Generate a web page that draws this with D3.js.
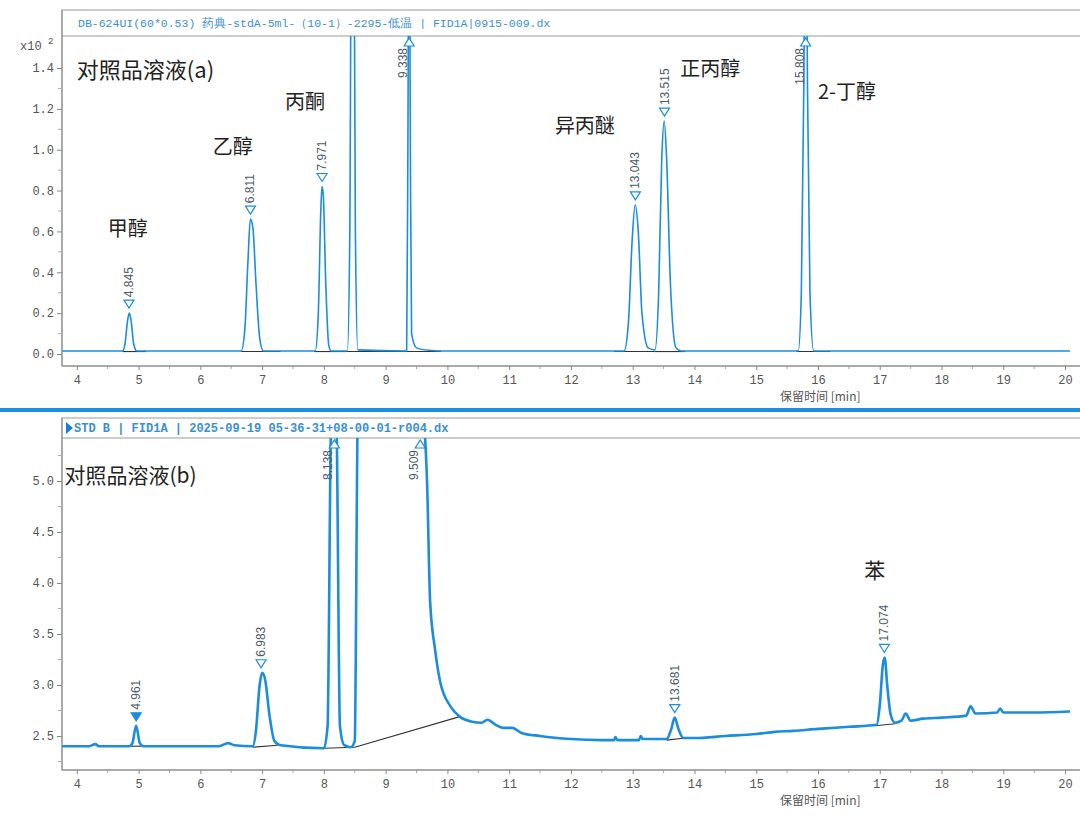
<!DOCTYPE html>
<html><head><meta charset="utf-8">
<script src="https://cdn.jsdelivr.net/npm/d3@7"></script>
<style>body{margin:0;background:#fff}svg{display:block}</style>
</head><body>
<svg id="c" width="1080" height="815"></svg>
<script>
// ---- data ----
const xTicks = [4,5,6,7,8,9,10,11,12,13,14,15,16,17,18,19,20];
const yTicksA = [0.0,0.2,0.4,0.6,0.8,1.0,1.2,1.4];
const yTicksB = [2.5,3.0,3.5,4.0,4.5,5.0];
const titleA = "DB-624UI(60*0.53) 药典-stdA-5ml-（10-1）-2295-低温 | FID1A|0915-009.dx";
const titleB = "STD B | FID1A | 2025-09-19 05-36-31+08-00-01-r004.dx";
const traceA = [[3.76,0.015],[4.74,0.015],[4.78,0.05],[4.82,0.16],[4.85,0.2],[4.88,0.16],[4.92,0.05],[4.97,0.015],
 [6.66,0.015],[6.72,0.12],[6.77,0.45],[6.81,0.66],[6.85,0.62],[6.9,0.35],[6.96,0.08],[7.02,0.015],
 [7.86,0.015],[7.91,0.2],[7.95,0.7],[7.97,0.82],[7.99,0.78],[8.03,0.35],[8.08,0.04],[8.12,0.015],
 [8.38,0.015],[8.42,0.6],[8.45,2.5],[8.48,2.5],[8.51,0.6],[8.55,0.02],
 [9.34,0.015],[9.36,1.0],[9.38,2.5],[9.4,1.0],[9.42,0.1],[9.5,0.03],[9.7,0.018],[9.9,0.015],
 [12.86,0.015],[12.93,0.15],[12.99,0.55],[13.04,0.73],[13.09,0.6],[13.15,0.2],[13.25,0.03],[13.36,0.02],
 [13.42,0.3],[13.47,0.95],[13.51,1.14],[13.55,0.95],[13.61,0.35],[13.7,0.03],[13.78,0.015],
 [15.68,0.015],[15.73,0.3],[15.77,1.3],[15.8,2.5],[15.83,1.3],[15.87,0.3],[15.93,0.015],[20.08,0.015]];
// [time, apex value, label, filled, offscale]
const peaksA = [[4.845,0.2,"4.845",false,false],[6.811,0.66,"6.811",false,false],[7.971,0.82,"7.971",false,false],[9.38,0,"9.338",false,true],
 [13.043,0.73,"13.043",false,false],[13.515,1.14,"13.515",false,false],[15.8,0,"15.808",false,true]];
const baseA = [[4.74,5.12],[6.66,7.3],[7.84,8.35],[8.35,9.9],[12.7,13.35],[13.35,13.85],[15.65,16.2]];
const namesA = [["对照品溶液(a)",4.0,1.35,22],["甲醇",4.5,0.58,20],["乙醇",6.2,0.98,20],["丙酮",7.37,1.2,20],
 ["异丙醚",11.74,1.08,20],["正丙醇",13.77,1.36,20],["2-丁醇",16.0,1.25,20]];
const traceB = [[3.76,2.4],[4.2,2.4],[4.3,2.42],[4.36,2.4],[4.85,2.4],[4.9,2.43],[4.96,2.6],[5.02,2.43],[5.08,2.4],
 [6.3,2.4],[6.45,2.43],[6.55,2.41],[6.85,2.4],[6.9,2.55],[6.96,3.0],[7.0,3.12],[7.05,3.05],[7.12,2.7],[7.2,2.45],[7.3,2.41],
 [8.0,2.38],[8.06,2.6],[8.12,5.6],[8.2,5.6],[8.26,2.6],[8.33,2.41],[8.43,2.39],[8.5,2.45],[8.55,5.6],[9.6,5.6],
 [9.67,5.0],[9.72,3.82],[9.8,3.35],[9.88,3.04],[10.05,2.79],[10.2,2.69],[10.4,2.64],[10.55,2.63],[10.65,2.66],[10.78,2.61],
 [10.9,2.58],[11.05,2.58],[11.2,2.53],[11.5,2.5],[12.0,2.47],[12.5,2.46],[12.7,2.46],[12.72,2.49],[12.75,2.46],[13.1,2.46],
 [13.13,2.5],[13.16,2.47],[13.55,2.47],[13.62,2.56],[13.68,2.68],[13.74,2.57],[13.82,2.48],[14.0,2.48],[14.5,2.5],
 [15.0,2.52],[15.3,2.54],[15.6,2.55],[16.0,2.57],[16.5,2.59],[16.95,2.61],[17.0,2.8],[17.05,3.2],[17.08,3.27],[17.12,3.0],
 [17.18,2.7],[17.25,2.63],[17.35,2.65],[17.42,2.72],[17.5,2.65],[17.7,2.67],[18.0,2.68],[18.4,2.7],[18.47,2.79],[18.55,2.72],
 [18.9,2.73],[18.95,2.77],[19.0,2.73],[19.5,2.73],[20.08,2.74]];
const peaksB = [[4.961,2.6,"4.961",true,false],[6.983,3.12,"6.983",false,false],[8.17,0,"8.138",false,true],[9.56,0,"9.509",false,true],
 [13.681,2.68,"13.681",false,false],[17.074,3.27,"17.074",false,false]];
const baseB = [[[4.88,2.4],[5.05,2.4]],[[6.85,2.39],[7.25,2.41]],[[8.0,2.38],[8.5,2.39]],[[8.5,2.39],[10.2,2.69]],
 [[13.55,2.46],[13.85,2.48]],[[16.92,2.6],[17.25,2.62]]];
const namesB = [["对照品溶液(b)",3.8,4.98,21],["苯",16.75,4.05,21]];

// ---- drawing ----
const svg = d3.select("#c");
const blue = "#1a8ddc", gray = "#555", mono = "Liberation Mono, DejaVu Sans Mono, monospace", cjk = "Noto Sans CJK SC, sans-serif";
const L = 62, R = 1070;
const x = d3.scaleLinear().domain([3.76,20.08]).range([L,R]);

function panel(o){
  const g = svg.append("g");
  const y = o.y;
  g.append("rect").attr("x",L).attr("y",o.boxTop).attr("width",R-L+12).attr("height",o.plotBot-o.boxTop)
    .attr("fill","none").attr("stroke","#999");
  g.append("line").attr("x1",L).attr("x2",R+12).attr("y1",o.plotTop).attr("y2",o.plotTop).attr("stroke","#999");
  g.append("text").attr("x",o.titleX).attr("y",(o.boxTop+o.plotTop)/2+4).attr("fill","#3a8fd2")
    .attr("font-family",mono).attr("font-size",o.bold?12:11.5).attr("font-weight",o.bold?"bold":"normal").text(o.title);
  if(o.bold) g.append("path").attr("d",`M${L+4},${o.boxTop+4}l7,6l-7,6z`).attr("fill","#1a7fd0");
  const id = "clip"+o.id;
  svg.append("clipPath").attr("id",id).append("rect").attr("x",L).attr("y",o.plotTop).attr("width",R-L).attr("height",o.plotBot-o.plotTop);
  const pg = g.append("g").attr("clip-path",`url(#${id})`);
  const xa = g.append("g").attr("transform",`translate(0,${o.plotBot})`)
    .call(d3.axisBottom(x).tickValues(xTicks).tickSize(4).tickFormat(d3.format("d")));
  xa.select(".domain").remove();
  xa.selectAll("text").attr("font-family",mono).attr("font-size",12).attr("fill",gray).attr("dy","0.9em");
  xa.selectAll("line").attr("stroke","#888");
  const halves = d3.range(4.5,20.1,1);
  g.append("g").selectAll("line").data(halves).join("line").attr("x1",d=>x(d)).attr("x2",d=>x(d))
    .attr("y1",o.plotBot).attr("y2",o.plotBot+3).attr("stroke","#aaa");
  g.append("line").attr("x1",L).attr("x2",R+12).attr("y1",o.plotBot).attr("y2",o.plotBot).attr("stroke","#888");
  g.append("line").attr("x1",L).attr("x2",L).attr("y1",o.boxTop).attr("y2",o.plotBot).attr("stroke","#888");
  g.append("text").attr("x",780).attr("y",o.plotBot+35).attr("font-family",cjk).attr("font-size",12).attr("fill",gray).text("保留时间 [min]");
  const ya = g.append("g").attr("transform",`translate(${L},0)`)
    .call(d3.axisLeft(y).tickValues(o.yTicks).tickSize(5).tickFormat(d3.format(".1f")));
  ya.select(".domain").remove();
  ya.selectAll("text").attr("font-family",mono).attr("font-size",12).attr("fill",gray);
  ya.selectAll("line").attr("stroke","#888");
  g.append("g").selectAll("line").data(o.minor).join("line").attr("x1",L-4).attr("x2",L).attr("y1",d=>y(d)).attr("y2",d=>y(d)).attr("stroke","#aaa");
  pg.selectAll("text.n").data(o.names).join("text").attr("x",d=>x(d[1])).attr("y",d=>y(d[2]))
    .attr("font-family",cjk).attr("font-size",d=>d[3]).attr("fill","#222").text(d=>d[0]);
  const line = d3.line().x(d=>x(d[0])).y(d=>y(d[1]));
  pg.selectAll("path.b").data(o.bases).join("path").attr("d",line).attr("stroke","#333").attr("stroke-width",1.1).attr("fill","none");
  pg.append("path").datum(o.trace).attr("d",d3.line().x(d=>x(d[0])).y(d=>y(d[1])).curve(d3.curveMonotoneX))
    .attr("fill","none").attr("stroke",blue).attr("stroke-width",o.sw);
  o.peaks.forEach(p=>{
    const px = x(p[0]);
    const lab = g.append("text").attr("font-family","Liberation Sans, Arial, sans-serif").attr("font-size",12).attr("fill","#4c5a6c").text(p[2]);
    if(p[4]){
      const ty = o.plotTop;
      g.append("path").attr("d",`M${px-5},${ty+10}L${px+5},${ty+10}L${px},${ty+2}Z`)
        .attr("fill","#fff").attr("stroke",blue).attr("stroke-width",1.2);
      lab.attr("text-anchor","end").attr("transform",`translate(${px-2},${ty+12}) rotate(-90)`);
    } else {
      const py = y(p[1]) - 5;
      pg.append("path").attr("d",`M${px-5},${py-8}L${px+5},${py-8}L${px},${py}Z`)
        .attr("fill",p[3]?blue:"#fff").attr("stroke",blue).attr("stroke-width",1.2);
      lab.attr("transform",`translate(${px+4},${py-11}) rotate(-90)`);
    }
  });
  return g;
}

const yA = d3.scaleLinear().domain([0,1.4]).range([354,68]);
panel({id:"a",y:yA,boxTop:10,plotTop:36,plotBot:366,title:titleA,titleX:78,bold:false,yTicks:yTicksA,
  minor:d3.range(0.1,1.5,0.2),names:namesA,trace:traceA,peaks:peaksA,bases:baseA.map(s=>[[s[0],0.012],[s[1],0.012]]),sw:1.6});
svg.append("text").attr("x",20).attr("y",50).attr("font-family",mono).attr("font-size",12).attr("fill",gray).text("x10");
svg.append("text").attr("x",48).attr("y",44).attr("font-family",mono).attr("font-size",9).attr("fill",gray).text("2");

svg.append("rect").attr("x",0).attr("y",408).attr("width",1080).attr("height",4).attr("fill","#1a8fe0");

const yB = d3.scaleLinear().domain([2.5,5.0]).range([736,481]);
panel({id:"b",y:yB,boxTop:418,plotTop:438,plotBot:770,title:titleB,titleX:74,bold:true,yTicks:yTicksB,
  minor:[2.25,2.75,3.25,3.75,4.25,4.75,5.25],names:namesB,trace:traceB,peaks:peaksB,bases:baseB,sw:2.6});
</script>
</body></html>
